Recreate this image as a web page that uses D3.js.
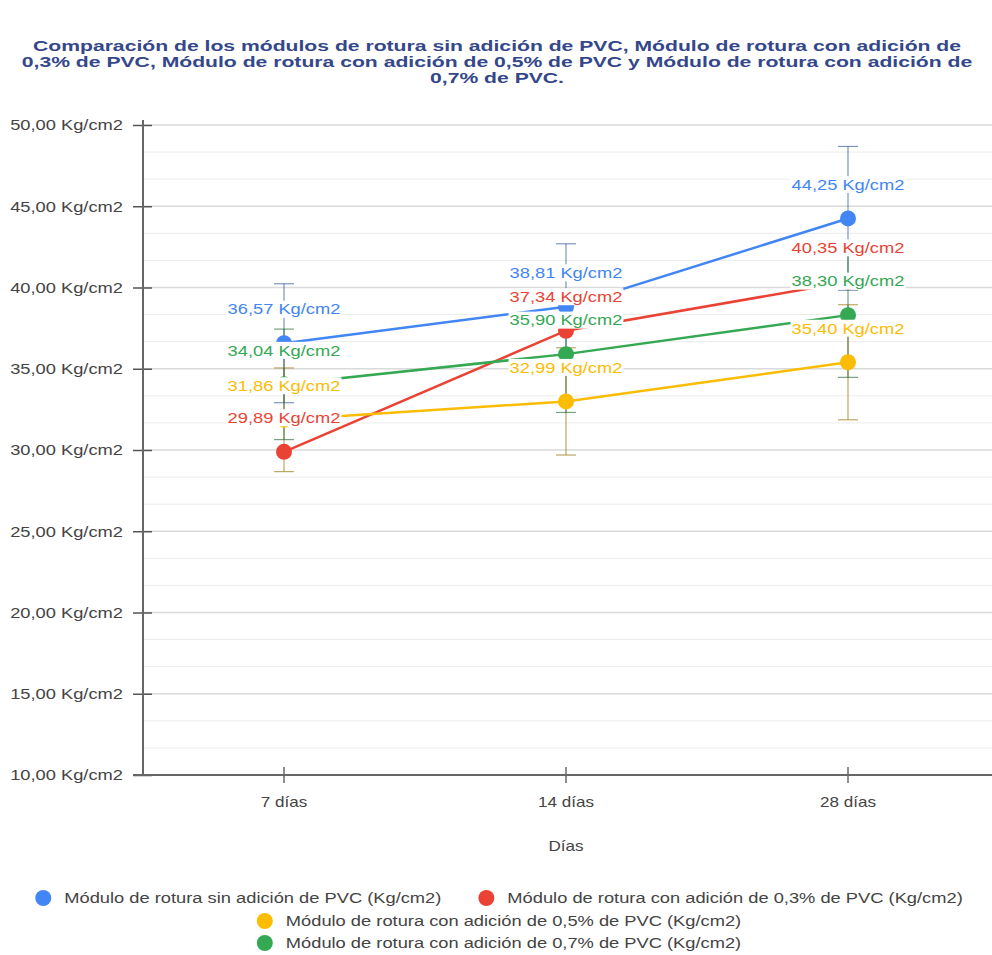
<!DOCTYPE html>
<html>
<head>
<meta charset="utf-8">
<script src="https://cdn.jsdelivr.net/npm/d3@7"></script>
<style>
  body { margin: 0; background: #fff; }
  text { font-family: "Liberation Sans", Arial, sans-serif; }
</style>
</head>
<body>
<svg></svg>
<script>
const categories = ['7 días', '14 días', '28 días'];
const seriesNames = [
	'Módulo de rotura sin adición de PVC (Kg/cm2)',
	'Módulo de rotura con adición de 0,3% de PVC (Kg/cm2)',
	'Módulo de rotura con adición de 0,5% de PVC (Kg/cm2)',
	'Módulo de rotura con adición de 0,7% de PVC (Kg/cm2)'
];
const sinPVC = [36.57, 38.81, 44.25];
const pvc03 = [29.89, 37.34, 40.35];
const pvc05 = [31.86, 32.99, 35.40];
const pvc07 = [34.04, 35.90, 38.30];

// error bars (red series has none)
const sinPVCLow = [32.91, 34.93, 39.83];
const sinPVCHigh = [40.23, 42.69, 48.68];
const pvc05Low = [28.67, 29.69, 31.86];
const pvc05High = [35.05, 36.29, 38.94];
const pvc07Low = [30.64, 32.31, 34.47];
const pvc07High = [37.44, 39.49, 42.13];

const yTicks = [10, 15, 20, 25, 30, 35, 40, 45, 50];
const titleLines = [
	'Comparación de los módulos de rotura sin adición de PVC, Módulo de rotura con adición de',
	'0,3% de PVC, Módulo de rotura con adición de 0,5% de PVC y Módulo de rotura con adición de',
	'0,7% de PVC.'
];
const xTitle = 'Días';
const colors = ['#4285f4', '#ea4335', '#fbbc04', '#34a853'];

const series = [
	{ name: seriesNames[0], values: sinPVC, low: sinPVCLow, high: sinPVCHigh },
	{ name: seriesNames[1], values: pvc03, low: null, high: null },
	{ name: seriesNames[2], values: pvc05, low: pvc05Low, high: pvc05High },
	{ name: seriesNames[3], values: pvc07, low: pvc07Low, high: pvc07High }
];

const SX = 1.22; // the source picture is stretched sideways
const width = 992, height = 955;
const svg = d3.select('svg').attr('width', width).attr('height', height);

const stretch = (sel, sx = SX) => sel.each(function () {
	const t = d3.select(this);
	const x = +t.attr('x') || 0, y = +t.attr('y') || 0;
	t.attr('x', 0).attr('y', 0).attr('transform', `translate(${x},${y}) scale(${sx},1)`);
});

const plotLeft = 143, plotTop = 125, plotRight = 992, plotBottom = 775;

const locale = d3.formatLocale({ decimal: ',', thousands: '.', grouping: [3], currency: ['', ''] });
const fmt = locale.format('.2f');
const yLabel = v => fmt(v) + ' Kg/cm2';

const xScale = d3.scaleBand().domain(categories).range([plotLeft, 989]);
const xPos = c => xScale(c) + xScale.bandwidth() / 2;
const yScale = d3.scaleLinear().domain([10, 50]).range([plotBottom, plotTop]);

// gridlines
const grid = svg.append('g');
for (let k = 1; k <= 24; k++) {
	const v = 10 + k * 5 / 3;
	grid.append('line')
		.attr('x1', plotLeft).attr('x2', plotRight)
		.attr('y1', yScale(v)).attr('y2', yScale(v))
		.attr('stroke', k % 3 === 0 ? '#dadada' : '#ececec')
		.attr('stroke-width', k % 3 === 0 ? 1.5 : 1);
}

// y axis
const yAxisG = svg.append('g')
	.attr('transform', `translate(${plotLeft},0)`)
	.call(d3.axisLeft(yScale).tickValues(yTicks).tickFormat(yLabel).tickSize(10).tickPadding(10));
yAxisG.select('.domain').remove();
yAxisG.selectAll('.tick line').attr('x1', 9).attr('stroke', '#555').attr('stroke-width', 1.5);
yAxisG.selectAll('.tick text')
	.attr('fill', '#444').style('font-size', '15px').style('font-family', '"Liberation Sans", Arial, sans-serif')
	.call(stretch);
svg.append('line')
	.attr('x1', plotLeft).attr('x2', plotLeft).attr('y1', 120).attr('y2', plotBottom)
	.attr('stroke', '#666').attr('stroke-width', 2);

// x axis
const xAxisG = svg.append('g')
	.attr('transform', `translate(0,${plotBottom})`)
	.call(d3.axisBottom(xScale).tickSize(8).tickPadding(14));
xAxisG.select('.domain').remove();
xAxisG.selectAll('.tick line').attr('y1', -8).attr('stroke', '#444').attr('stroke-width', 1.2);
xAxisG.selectAll('.tick text')
	.attr('fill', '#444').style('font-size', '14px').style('font-family', '"Liberation Sans", Arial, sans-serif')
	.call(stretch);
svg.append('line')
	.attr('x1', 133).attr('x2', plotRight).attr('y1', plotBottom).attr('y2', plotBottom)
	.attr('stroke', '#666').attr('stroke-width', 2);

svg.append('text')
	.attr('x', xPos(categories[1])).attr('y', 851)
	.attr('text-anchor', 'middle').attr('fill', '#444').style('font-size', '14px')
	.text(xTitle).call(stretch);

// error bars
const plot = svg.append('g');
series.forEach((s, i) => {
	if (!s.low) return;
	const c = d3.color(colors[i]).darker(1.5);
	const g = plot.append('g').attr('stroke', c).attr('stroke-opacity', 0.6).attr('stroke-width', 1.2);
	categories.forEach((cat, j) => {
		const x = xPos(cat);
		g.append('line').attr('x1', x).attr('x2', x).attr('y1', yScale(s.low[j])).attr('y2', yScale(s.high[j]));
		[s.low[j], s.high[j]].forEach(v => {
			g.append('line').attr('x1', x - 10).attr('x2', x + 10).attr('y1', yScale(v)).attr('y2', yScale(v));
		});
	});
});

// lines
const lineGen = d3.line().x((d, j) => xPos(categories[j])).y(d => yScale(d));
series.forEach((s, i) => {
	plot.append('path')
		.attr('d', lineGen(s.values))
		.attr('fill', 'none').attr('stroke', colors[i]).attr('stroke-width', 2.5);
});

// points
series.forEach((s, i) => {
	plot.selectAll(null).data(s.values).enter().append('circle')
		.attr('cx', (d, j) => xPos(categories[j]))
		.attr('cy', d => yScale(d))
		.attr('r', 8)
		.attr('fill', colors[i]);
});

// annotations with white box
series.forEach((s, i) => {
	s.values.forEach((v, j) => {
		const g = plot.append('g').attr('transform', `translate(${xPos(categories[j])},${yScale(v) - 34})`);
		const rect = g.append('rect').attr('fill', '#fff');
		const t = g.append('text')
			.attr('text-anchor', 'middle').attr('dy', '0.35em')
			.attr('fill', colors[i]).style('font-size', '15px')
			.text(yLabel(v))
			.call(stretch);
		const w = t.node().getComputedTextLength() * SX;
		rect.attr('x', -w / 2 - 1).attr('y', -8.5).attr('width', w + 2).attr('height', 17);
	});
});

// title
svg.append('g').selectAll('text').data(titleLines).enter().append('text')
	.attr('x', 497).attr('y', (d, i) => 51 + i * 15.8)
	.attr('text-anchor', 'middle')
	.attr('fill', '#34478a').style('font-size', '15px').style('font-weight', 'bold')
	.text(d => d)
	.call(stretch, 1.41);

// legend
const legendRows = [[0, 1], [2], [3]];
const legendY = [898, 921, 943];
const legend = svg.append('g');
legendRows.forEach((row, r) => {
	const items = row.map(i => {
		const g = legend.append('g');
		g.append('circle').attr('r', 8).attr('cx', 8).attr('fill', colors[i]);
		const t = g.append('text').attr('x', 29).attr('dy', '0.35em')
			.attr('fill', '#444').style('font-size', '15px')
			.text(seriesNames[i]).call(stretch);
		const w = 29 + t.node().getComputedTextLength() * SX;
		return { g, w };
	});
	const gap = 37;
	const total = d3.sum(items, d => d.w) + gap * (items.length - 1);
	let x = 499 - total / 2;
	items.forEach(it => {
		it.g.attr('transform', `translate(${x},${legendY[r]})`);
		x += it.w + gap;
	});
});
</script>
</body>
</html>
